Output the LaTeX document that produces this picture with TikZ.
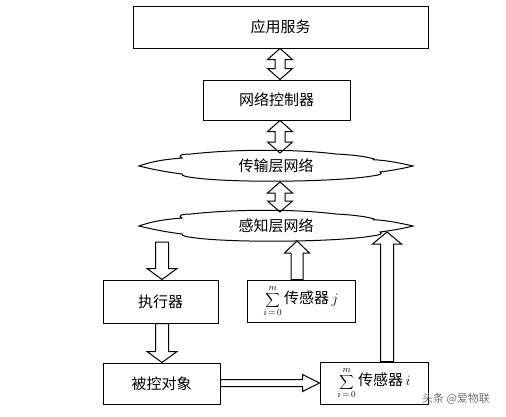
\documentclass[tikz,border=0pt]{standalone}
\usepackage{fontspec}
\newfontfamily\cjk{Noto Sans CJK SC}
\usetikzlibrary{calc}
% vertical double-headed block arrow: #1 lower end, #2 upper end
\newcommand\vdouble[2]{%
  \draw[blk] let \p1=#1, \p2=#2 in
  (\x2,\y2) -- (\x2+12.5pt,\y2-11pt) -- (\x2+5pt,\y2-11pt) -- (\x2+5pt,\y1+11pt)
  -- (\x2+12.5pt,\y1+11pt) -- (\x2,\y1) -- (\x2-12.5pt,\y1+11pt) -- (\x2-5pt,\y1+11pt)
  -- (\x2-5pt,\y2-11pt) -- (\x2-12.5pt,\y2-11pt) -- cycle;}
% vertical single block arrow: #1 tail, #2 tip, #3 half shaft, #4 half head, #5 head length, #6 dir (1 up, -1 down)
\newcommand\varrow[6]{%
  \draw[blk] let \p1=#1, \p2=#2 in
  (\x2,\y2) -- (\x2+#4,{\y2-(#6)*(#5)}) -- (\x2+#3,{\y2-(#6)*(#5)}) -- (\x2+#3,\y1)
  -- (\x2-#3,\y1) -- (\x2-#3,{\y2-(#6)*(#5)}) -- (\x2-#4,{\y2-(#6)*(#5)}) -- cycle;}
% horizontal block arrow to the right: #1 tail, #2 tip
\newcommand\harrow[2]{%
  \draw[blk] let \p1=#1, \p2=#2 in
  (\x2,\y2) -- (\x2-17pt,\y2+8.5pt) -- (\x2-17pt,\y2+3.5pt) -- (\x1,\y2+3.5pt)
  -- (\x1,\y2-3.5pt) -- (\x2-17pt,\y2-3.5pt) -- (\x2-17pt,\y2-8.5pt) -- cycle;}
\newcommand\cloudshape{%
  \draw[blk] (-137,0) .. controls (-120,-6) and (-105,-7) .. (-94,-8)
  .. controls (-98,-10) and (-96,-12) .. (-85,-12)
  .. controls (-40,-17) and (20,-17) .. (60,-12)
  .. controls (80,-11) and (92,-9) .. (98,-7)
  .. controls (96,-6) and (100,-6) .. (102,-6)
  .. controls (115,-5) and (128,-2) .. (137,0)
  .. controls (125,3) and (112,5) .. (104,6)
  .. controls (107,8) and (104,9) .. (96,10)
  .. controls (60,16) and (-40,17) .. (-80,12)
  .. controls (-88,11) and (-95,10) .. (-94,8)
  .. controls (-110,6) and (-125,3) .. (-137,0) -- cycle;}
\newcommand\sumpart{{\fontsize{13.5}{15}\selectfont$\displaystyle\sum_{i\,=\,0}^{m}$}}
\begin{document}
\begin{tikzpicture}[x=1pt,y=-1pt,
  box/.style={draw, line width=1pt, inner sep=0pt, font=\cjk\fontsize{15}{17}\selectfont},
  blk/.style={draw, line width=1pt, line join=miter},
  ctext/.style={inner sep=0pt, font=\cjk\fontsize{15}{17}\selectfont},
  wm/.style={inner sep=0pt, text=black!55, font=\cjk\fontsize{11}{13}\selectfont}]
\useasboundingbox[fill=white] (0,0) rectangle (506,416);
% boxes
\node[box, minimum width=295pt, minimum height=42pt] (app) at (280.5,27) {应用服务};
\node[box, minimum width=147pt, minimum height=40pt] (ctrl) at (276.5,100) {网络控制器};
\node[box, minimum width=115pt, minimum height=43pt] (exec) at (160.5,301.5) {执行器};
\node[box, minimum width=108pt, minimum height=42pt] (sj) at (301,301)
  {\sumpart\,传感器\,{\fontsize{14}{16}\selectfont$j$}};
\node[box, minimum width=117pt, minimum height=41pt] (obj) at (161.5,383.5) {被控对象};
\node[box, minimum width=108pt, minimum height=42pt] (si) at (374,383)
  {\sumpart\,传感器\,{\fontsize{14}{16}\selectfont$i$}};
% clouds
\node[ctext] (c1) at (276,166) {传输层网络};
\begin{scope}[shift={(c1.center)}]\cloudshape\end{scope}
\node[ctext] (c2) at (276,226) {感知层网络};
\begin{scope}[shift={(c2.center)}]\cloudshape\end{scope}
% watermark
\node[wm] (wmk) at (456,399) {头条 @爱物联};
% helper coordinates
\coordinate (xA) at (280,0);
\coordinate (x162) at (162,0);
\coordinate (x297) at (297,0);
\coordinate (x387) at (387,0);
\coordinate (c1n) at ($(c1.center)+(4,-13)$);
\coordinate (c1s) at ($(c1.center)+(4,16)$);
\coordinate (c2n) at ($(c2.center)+(4,-14)$);
\coordinate (c2l) at ($(c2.center)+(-114,16)$);
\coordinate (c2j) at ($(c2.center)+(21,15)$);
\coordinate (c2r) at ($(c2.center)+(111,6)$);
% arrows
\vdouble{(ctrl.north -| xA)}{(app.south -| xA)}
\vdouble{(c1n)}{(ctrl.south -| xA)}
\vdouble{(c2n)}{(c1s)}
\varrow{(c2l)}{(exec.north -| x162)}{6.5pt}{15pt}{11pt}{-1}
\varrow{(exec.south -| x162)}{(obj.north -| x162)}{6.5pt}{15pt}{11pt}{-1}
\varrow{(sj.north -| x297)}{(c2j)}{6pt}{12.5pt}{12pt}{1}
\varrow{(si.north -| x387)}{(c2r)}{6.5pt}{14.5pt}{12pt}{1}
\harrow{(obj.east)}{(si.west)}
\end{tikzpicture}
\end{document}
